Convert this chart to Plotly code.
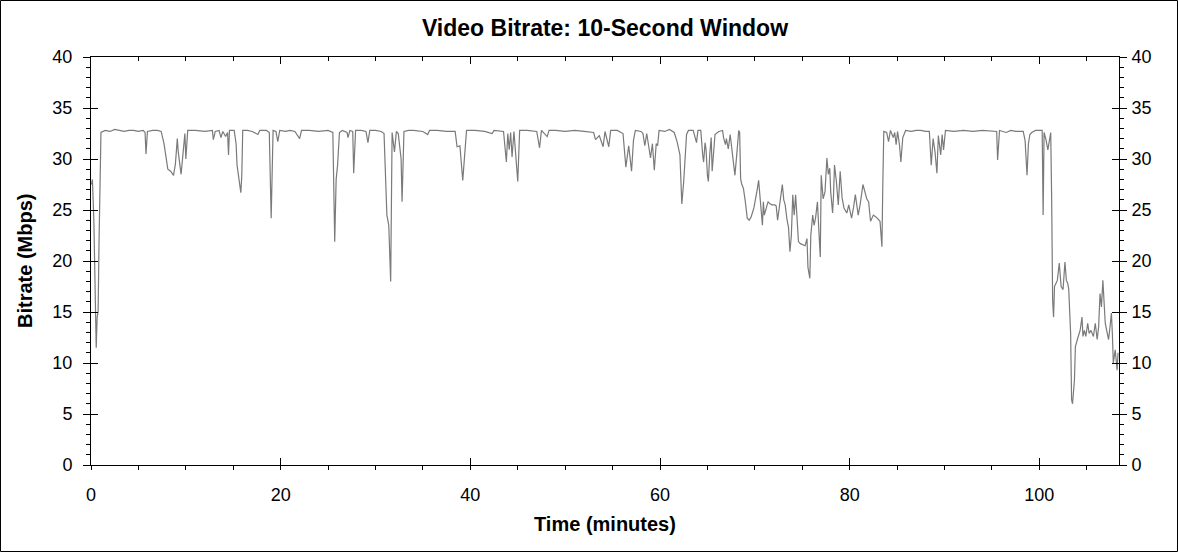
import plotly.graph_objects as go

# Video bitrate, 10-second window
minutes = [
    0.05, 0.15, 0.3, 0.45, 0.55, 0.65, 0.75, 0.85, 0.95, 1.05,
    1.5, 2.0, 2.5, 3.0, 3.5, 4.0, 4.5, 5.0, 5.5, 5.7,
    5.8, 5.95, 6.5, 7.0, 7.4, 7.7, 8.1, 8.4, 8.7, 8.9,
    9.1, 9.2, 9.5, 9.7, 9.9, 10.0, 10.2, 11.0, 12.0, 12.8,
    12.9, 13.1, 13.5, 13.7, 13.9, 14.2, 14.4, 14.5, 14.6, 15.1,
    15.3, 15.4, 15.8, 15.9, 16.0, 16.5, 17.0, 17.6, 17.8, 18.5,
    18.8, 19.0, 19.2, 19.5, 19.7, 19.9, 20.5, 21.0, 21.5, 22.0,
    22.2, 23.0, 24.0, 25.0, 25.5, 25.7, 25.85, 26.0, 26.2, 26.5,
    27.0, 27.1, 27.3, 27.6, 27.7, 27.9, 28.5, 29.0, 29.2, 29.4,
    30.0, 30.6, 30.9, 31.2, 31.4, 31.6, 31.75, 32.0, 32.2, 32.4,
    32.7, 32.8, 33.0, 33.5, 34.0, 35.0, 35.5, 35.7, 36.5, 37.5,
    38.4, 38.6, 38.9, 39.2, 39.6, 40.5, 41.5, 42.3, 42.5, 43.5,
    43.8, 43.95, 44.1, 44.25, 44.4, 44.6, 45.0, 45.2, 46.0, 47.0,
    47.3, 47.5, 48.1, 48.3, 49.0, 50.0, 51.0, 52.0, 53.0, 53.2,
    53.6, 54.0, 54.2, 54.6, 54.8, 55.5, 56.1, 56.4, 56.7, 57.0,
    57.2, 57.4, 58.0, 58.2, 58.4, 58.6, 59.0, 59.2, 59.4, 59.6,
    59.75, 59.9, 60.5, 61.0, 61.5, 61.8, 62.1, 62.3, 62.5, 62.8,
    63.0, 63.5, 63.7, 63.85, 64.0, 64.3, 64.5, 64.6, 64.75, 64.85,
    65.0, 65.1, 65.25, 65.4, 65.5, 65.65, 65.8, 66.2, 66.6, 66.7,
    66.9, 67.0, 67.2, 67.4, 67.8, 67.9, 68.1, 68.3, 68.4, 68.5,
    68.6, 68.8, 69.0, 69.2, 69.4, 69.6, 69.9, 70.1, 70.25, 70.4,
    70.6, 70.8, 70.9, 71.0, 71.3, 71.4, 71.6, 71.8, 72.1, 72.25,
    72.4, 72.6, 72.9, 73.05, 73.2, 73.4, 73.55, 73.7, 73.85, 74.0,
    74.15, 74.3, 74.45, 74.6, 74.8, 75.1, 75.3, 75.5, 75.6, 75.8,
    75.9, 76.1, 76.25, 76.4, 76.6, 76.75, 76.9, 77.0, 77.2, 77.4,
    77.6, 77.75, 77.9, 78.0, 78.2, 78.3, 78.4, 78.6, 78.8, 79.0,
    79.2, 79.4, 79.7, 79.9, 80.1, 80.2, 80.4, 80.6, 80.75, 80.9,
    81.1, 81.4, 81.6, 81.8, 82.0, 82.2, 82.5, 82.8, 83.2, 83.4,
    83.5, 83.6, 83.9, 84.1, 84.3, 84.6, 84.75, 84.9, 85.05, 85.25,
    85.4, 85.6, 85.9, 86.5, 87.0, 87.5, 88.0, 88.4, 88.6, 88.8,
    89.0, 89.2, 89.35, 89.6, 89.75, 89.9, 90.1, 91.0, 92.0, 93.0,
    94.0, 95.0, 95.5, 95.6, 95.8, 96.5, 97.0, 97.5, 98.3, 98.5,
    98.7, 98.85, 99.0, 99.2, 99.6, 100.3, 100.4, 100.5, 100.7, 100.9,
    101.05, 101.2, 101.3, 101.4, 101.5, 101.6, 101.9, 102.0, 102.1, 102.3,
    102.5, 102.7, 102.85, 103.0, 103.1, 103.3, 103.4, 103.5, 103.7, 103.8,
    103.95, 104.1, 104.3, 104.5, 104.6, 104.75, 104.9, 105.1, 105.25, 105.45,
    105.7, 105.9, 106.1, 106.25, 106.4, 106.55, 106.7, 106.85, 106.95, 107.1,
    107.3, 107.45, 107.6, 107.7, 107.8, 108.0, 108.2, 108.3,
]

bitrate_mbps = [
    27.5, 28.0, 24.0, 15.0, 11.5, 14.5, 15.0, 22.0, 29.0, 32.6,
    32.8, 32.7, 32.9, 32.8, 32.7, 32.8, 32.8, 32.7, 32.8, 32.6,
    30.5, 32.7, 32.8, 32.8, 32.7, 31.5, 29.0, 28.8, 28.4, 29.5,
    32.0, 30.7, 28.5, 30.5, 32.5, 30.0, 32.8, 32.8, 32.7, 32.8,
    31.9, 32.7, 32.8, 32.1, 32.7, 32.2, 32.6, 30.4, 32.8, 32.8,
    31.5, 29.4, 26.7, 28.4, 32.8, 32.8, 32.7, 32.4, 32.8, 32.8,
    32.6, 24.2, 32.8, 32.7, 31.7, 32.8, 32.7, 32.8, 32.7, 32.0,
    32.8, 32.8, 32.7, 32.8, 32.6, 21.9, 28.0, 29.4, 32.6, 32.8,
    32.6, 32.1, 32.8, 32.7, 28.6, 32.8, 32.8, 32.7, 31.6, 32.8,
    32.8, 32.7, 32.5, 24.5, 23.5, 18.0, 32.6, 30.7, 32.7, 32.5,
    30.0, 25.8, 32.7, 32.8, 32.8, 32.7, 32.4, 32.8, 32.8, 32.7,
    32.7, 31.2, 31.3, 27.9, 32.8, 32.8, 32.7, 32.5, 32.8, 32.7,
    29.7, 32.5, 30.9, 32.6, 30.2, 32.7, 27.8, 32.8, 32.8, 32.7,
    31.1, 32.8, 32.2, 32.8, 32.8, 32.7, 32.8, 32.7, 32.6, 31.9,
    32.3, 31.2, 32.7, 31.2, 32.8, 32.8, 32.5, 29.2, 31.3, 28.8,
    31.8, 32.8, 32.7, 32.5, 31.3, 32.5, 30.1, 31.5, 28.9, 31.5,
    31.3, 32.8, 32.7, 32.9, 32.6, 31.7, 30.4, 25.6, 27.8, 32.4,
    32.8, 32.8, 32.0, 31.6, 32.8, 32.8, 30.4, 29.7, 31.6, 31.0,
    28.4, 27.8, 30.5, 32.1, 28.8, 30.8, 32.4, 32.7, 32.8, 32.1,
    31.4, 32.0, 31.0, 32.4, 29.1, 28.4, 30.5, 32.8, 32.6, 28.1,
    27.6, 27.1, 25.8, 24.2, 24.0, 24.3, 25.2, 26.5, 27.0, 27.9,
    25.5, 23.5, 25.8, 24.5, 25.5, 25.8, 25.6, 25.5, 25.5, 25.4,
    24.0, 25.4, 27.5, 26.0, 25.5, 24.0, 23.3, 20.9, 22.5, 26.5,
    24.5, 26.5, 24.5, 21.9, 21.7, 21.6, 21.5, 22.2, 19.4, 18.3,
    22.5, 24.5, 23.5, 24.2, 25.8, 23.0, 20.4, 28.4, 26.1, 26.8,
    30.1, 28.5, 29.1, 26.8, 24.7, 26.5, 29.4, 27.8, 25.5, 28.8,
    26.2, 25.2, 24.7, 25.5, 24.5, 24.2, 25.2, 26.5, 25.5, 24.5,
    25.5, 27.5, 26.8, 26.1, 25.8, 23.9, 24.5, 24.3, 23.9, 21.4,
    27.8, 32.7, 32.6, 31.7, 32.8, 32.1, 32.6, 31.4, 32.7, 31.4,
    29.7, 32.1, 32.8, 32.7, 32.8, 32.8, 32.7, 32.7, 29.4, 32.0,
    30.7, 28.6, 32.3, 30.4, 32.4, 30.9, 32.8, 32.7, 32.8, 32.7,
    32.8, 32.7, 32.7, 29.9, 32.8, 32.6, 32.8, 32.7, 32.7, 31.8,
    28.4, 31.5, 32.4, 32.6, 32.8, 32.8, 24.5, 32.6, 31.9, 30.9,
    31.8, 32.6, 26.0, 16.2, 14.5, 17.5, 18.1, 19.1, 19.8, 17.5,
    17.2, 19.9, 18.1, 17.8, 17.2, 12.9, 6.4, 6.0, 8.3, 11.6,
    12.0, 12.6, 13.2, 14.5, 12.6, 13.2, 12.6, 13.9, 12.9, 13.2,
    12.6, 13.9, 12.3, 13.5, 16.8, 15.5, 18.1, 15.5, 13.9, 13.2,
    12.3, 13.5, 14.9, 12.9, 10.0, 11.3, 9.3, 11.0,
]

X_RANGE = [0, 108.4]
Y_RANGE = [0, 40]
FONT = "Liberation Sans, Arial, sans-serif"

fig = go.Figure()

fig.add_trace(go.Scatter(
    x=minutes, y=bitrate_mbps,
    mode="lines",
    line=dict(color="#7a7a7a", width=1.2),
    showlegend=False,
))

# invisible helper traces so the extra tick axes get drawn
for xa, ya in [("x2", "y"), ("x3", "y"), ("x", "y2"), ("x", "y3")]:
    fig.add_trace(go.Scatter(
        x=[0], y=[0], xaxis=xa, yaxis=ya,
        mode="markers", marker=dict(opacity=0),
        hoverinfo="skip", showlegend=False,
    ))

axis_common = dict(showgrid=False, zeroline=False, tickcolor="black",
                   tickwidth=1, linecolor="black", linewidth=1)

fig.update_layout(
    width=1178, height=552,
    paper_bgcolor="white", plot_bgcolor="white",
    margin=dict(l=91, r=59, t=57, b=87, autoexpand=False),
    font=dict(family=FONT, size=18, color="black"),
    title=dict(
        text="Video Bitrate: 10-Second Window",
        font=dict(family=FONT, size=23, weight="bold"),
        x=0.5, xref="paper", xanchor="center",
        y=1 - 28 / 552, yref="container", yanchor="middle",
    ),
    xaxis=dict(
        range=X_RANGE, dtick=20, ticks="inside", ticklen=7,
        showline=True, mirror="ticks", ticklabelstandoff=13,
        **axis_common,
    ),
    xaxis2=dict(
        range=X_RANGE, overlaying="x", anchor="y", side="bottom",
        dtick=5, ticks="outside", ticklen=4, showticklabels=False,
        **axis_common,
    ),
    xaxis3=dict(
        range=X_RANGE, overlaying="x", anchor="y", side="top",
        dtick=5, ticks="inside", ticklen=4, showticklabels=False,
        **axis_common,
    ),
    yaxis=dict(
        range=Y_RANGE, dtick=5, ticks="inside", ticklen=7,
        showline=True, mirror="ticks", showticklabels=False,
        **axis_common,
    ),
    yaxis2=dict(
        range=Y_RANGE, overlaying="y", anchor="x", side="left",
        dtick=5, ticks="outside", ticklen=7, ticklabelstandoff=7,
        minor=dict(dtick=1, ticks="outside", ticklen=4, tickcolor="black"),
        **axis_common,
    ),
    yaxis3=dict(
        range=Y_RANGE, overlaying="y", anchor="x", side="right",
        dtick=5, ticks="outside", ticklen=7, ticklabelstandoff=1,
        minor=dict(dtick=1, ticks="outside", ticklen=4, tickcolor="black"),
        **axis_common,
    ),
    annotations=[
        dict(text="Time (minutes)", xref="paper", yref="paper",
             x=0.5, y=(465 - 524) / 408, xanchor="center", yanchor="middle",
             showarrow=False, font=dict(family=FONT, size=20, weight="bold")),
        dict(text="Bitrate (Mbps)", xref="paper", yref="paper",
             x=(25 - 91) / 1028, y=0.5, xanchor="center", yanchor="middle",
             textangle=-90, showarrow=False,
             font=dict(family=FONT, size=20, weight="bold")),
    ],
    shapes=[
        dict(type="rect", xref="paper", yref="paper",
             x0=-90.5 / 1028, x1=1086.5 / 1028,
             y0=(465 - 551.5) / 408, y1=(465 - 0.5) / 408,
             line=dict(color="black", width=1), fillcolor="rgba(0,0,0,0)",
             layer="above"),
    ],
)

# drop the default 8px page margin so the figure fills the window
fig.write_html("out.html", config={"displayModeBar": False},
               post_script="document.body.style.margin='0';")
